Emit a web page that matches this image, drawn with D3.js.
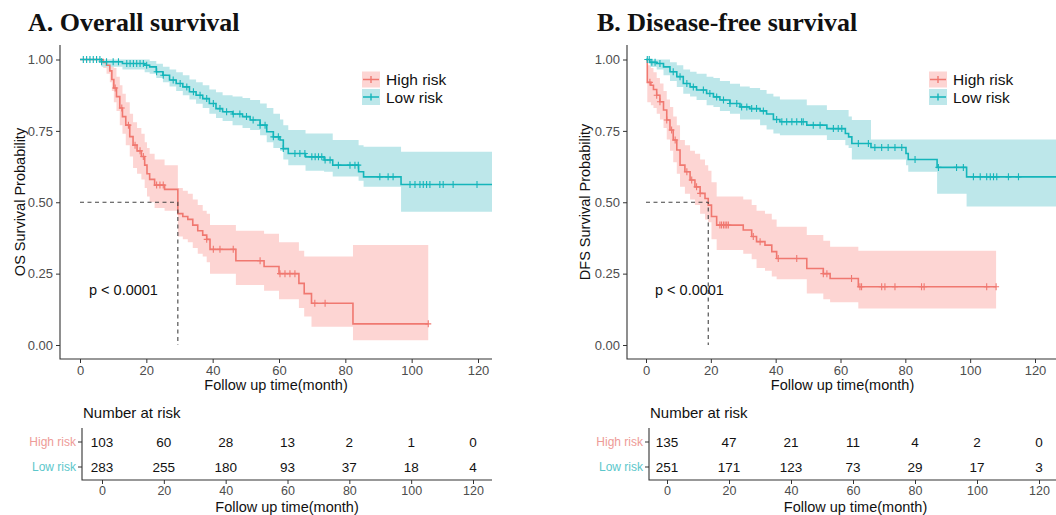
<!DOCTYPE html>
<html><head><meta charset="utf-8">
<script src="https://cdn.jsdelivr.net/npm/d3@7"></script>
<style>
body{margin:0;background:#fff}
svg{display:block}
text{font-family:"Liberation Sans",Arial,sans-serif}
text.ttl{font-family:"Liberation Serif","Times New Roman",serif}
</style>
</head><body>
<svg id="c" width="1056" height="515"></svg>
<script>
// ---------- DATA ----------
const groups = ["High risk", "Low risk"];
const timeTicks = [0, 20, 40, 60, 80, 100, 120];
const yTicks = [0, 0.25, 0.5, 0.75, 1];
const yTickLabels = ["0.00", "0.25", "0.50", "0.75", "1.00"];

// A. Overall survival
const osHighTime  = [0, 7, 8, 9, 9.6, 10.2, 11, 12, 12.8, 13.8, 15, 16, 17.2, 18.5, 19.5, 20.2, 21, 22.5, 25.5, 29.5, 31, 32.5, 34, 35.5, 37, 38.2, 39.2, 47, 55.5, 60, 66, 67.6, 69.8, 82.3];
const osHighSurv  = [1, .99, .98, .96, .93, .90, .87, .83, .80, .77, .73, .70, .68, .66, .63, .60, .58, .56, .545, .46, .45, .44, .42, .40, .385, .37, .335, .295, .275, .25, .216, .18, .146, .074];
const osHighLower = [1, .97, .95, .92, .89, .85, .82, .77, .74, .70, .66, .62, .60, .58, .55, .52, .50, .48, .47, .38, .37, .36, .34, .32, .31, .29, .25, .21, .19, .16, .13, .10, .064, .017];
const osHighUpper = [1, 1, 1, 1, .99, .97, .94, .91, .88, .85, .81, .78, .76, .74, .71, .69, .67, .65, .63, .55, .54, .53, .51, .49, .47, .46, .42, .40, .39, .36, .33, .31, .31, .35];
const osHighEnd = 105;
const osHighCensor = [10.6, 12.6, 14.6, 16.6, 18.1, 19.1, 23.1, 24.1, 25.1, 38.2, 40.2, 42.2, 46.2, 54.3, 60.3, 61.8, 63.3, 64.8, 70.8, 73.9, 105];

const osLowTime  = [0, 6.5, 12.8, 19.5, 21, 23, 25, 27, 29, 31, 33, 35, 37, 39, 41, 43, 46, 49, 51.3, 54.3, 56.3, 58.3, 60.3, 61.3, 62.8, 68, 73.6, 76.2, 84, 85.5, 96.8];
const osLowSurv  = [1, .992, .986, .98, .974, .957, .945, .928, .916, .904, .887, .875, .863, .846, .828, .817, .809, .80, .788, .77, .747, .729, .718, .688, .671, .659, .648, .63, .607, .589, .562];
const osLowLower = [1, .975, .965, .955, .95, .935, .92, .905, .89, .875, .86, .845, .83, .81, .795, .785, .77, .76, .753, .735, .71, .69, .68, .65, .63, .61, .607, .59, .575, .554, .467];
const osLowUpper = [1, 1, 1, 1, .995, .985, .975, .965, .955, .945, .93, .92, .91, .895, .885, .875, .87, .865, .858, .846, .83, .81, .79, .77, .753, .741, .741, .718, .70, .694, .677];
const osLowEnd = 124.3;
const osLowCensor = [1, 2, 3, 4, 5, 6, 6.5, 8, 10, 11.6, 14.1, 15.1, 16.1, 17.1, 18.1, 19.1, 20.1, 23.1, 25.1, 28.1, 30.2, 32.2, 34.2, 36.2, 38.2, 40.2, 42.2, 44.2, 46.2, 48.2, 50.2, 52.2, 54.3, 55.8, 58.3, 59.8, 61.3, 64.8, 66.3, 67.8, 69.9, 70.9, 71.9, 72.9, 73.9, 75.4, 77.9, 81.4, 82.9, 83.9, 90.4, 92.9, 94.4, 99.5, 101, 102.5, 103.5, 104.5, 105.5, 108.5, 109.5, 112.5, 119.7];

const osRiskHigh = [103, 60, 28, 13, 2, 1, 0];
const osRiskLow  = [283, 255, 180, 93, 37, 18, 4];

// B. Disease-free survival
const dfsHighTime  = [0, 0.4, 1.5, 2.3, 3.3, 4.3, 5.4, 6.4, 7.4, 8.4, 9.5, 10.5, 12, 13.6, 15.1, 16.7, 18.2, 19.2, 20.2, 21.8, 30, 32.6, 34.1, 36.7, 38.8, 40.3, 49.6, 54.7, 56.8, 65.5];
const dfsHighSurv  = [1, .92, .91, .895, .875, .852, .823, .788, .753, .718, .683, .63, .607, .578, .554, .531, .513, .49, .45, .42, .403, .38, .362, .35, .327, .303, .268, .25, .233, .204];
const dfsHighLower = [1, .85, .84, .83, .81, .79, .76, .72, .68, .64, .60, .554, .53, .51, .49, .46, .44, .43, .37, .333, .32, .30, .27, .26, .24, .23, .18, .16, .15, .128];
const dfsHighUpper = [1, .98, .97, .955, .935, .916, .89, .86, .834, .80, .77, .718, .70, .68, .67, .65, .63, .61, .57, .52, .51, .49, .47, .46, .44, .414, .385, .365, .344, .33];
const dfsHighEnd = 108;
const dfsHighCensor = [1.2, 3.3, 4.3, 6.4, 7.9, 9.0, 12.6, 14.1, 15.6, 16.7, 22.8, 23.3, 23.9, 24.4, 24.9, 25.4, 33.1, 35.2, 40.8, 46.5, 54.7, 55.8, 63.4, 66, 66.5, 72.7, 73.7, 76.8, 85, 85.8, 105.1, 108];

const dfsLowTime  = [0, 1.2, 3.3, 5.4, 7.4, 9.5, 11.5, 13.6, 15.6, 18.7, 20.8, 22.8, 25.9, 29, 32, 35.2, 37.2, 39.3, 41.3, 49.6, 55.8, 61.5, 62.5, 63.5, 69.4, 80.2, 80.9, 89.8, 98.9];
const dfsLowSurv  = [1, .99, .986, .974, .957, .94, .916, .904, .893, .881, .869, .858, .846, .834, .828, .82, .809, .79, .782, .77, .758, .741, .729, .706, .692, .671, .65, .622, .589];
const dfsLowLower = [1, .974, .965, .945, .925, .904, .88, .87, .858, .84, .834, .82, .81, .79, .79, .77, .755, .741, .735, .735, .718, .70, .69, .65, .65, .63, .607, .53, .485];
const dfsLowUpper = [1, 1, 1, 1, .99, .98, .965, .957, .95, .94, .935, .925, .915, .905, .9, .893, .88, .87, .86, .84, .823, .823, .80, .788, .72, .72, .72, .72, .72];
const dfsLowEnd = 128;
const dfsLowCensor = [0.4, 1, 1.8, 2.8, 4.3, 8.4, 10.5, 12.6, 14.6, 17.7, 19.7, 21.8, 23.9, 25.9, 28, 29.5, 31.1, 32.6, 34.1, 36.2, 40.3, 41.9, 43.4, 45, 46.5, 48, 48.5, 51.6, 53.7, 57.8, 59.3, 60.4, 65.5, 68.6, 70.6, 72.7, 74.7, 76.8, 78.9, 83, 90.2, 95.8, 97.9, 101, 103.1, 105.1, 106.2, 107.2, 108.2, 111.8, 114.9];

const dfsRiskHigh = [135, 47, 21, 11, 4, 2, 0];
const dfsRiskLow  = [251, 171, 123, 73, 29, 17, 3];

// ---------- STYLE ----------
const lineColors = ["#F07870", "#14B5BA"];
const bandColors = ["#FDD5D3", "#BDE7EA"];
const labelColors = ["#EE9B97", "#5CC7CB"];
const axisColor = "#333";
const tickText = "#4D4D4D";

const svg = d3.select("#c");

function panel(cfg) {
  const g = svg.append("g");
  const x = d3.scaleLinear().domain([0, 120]).range([cfg.x0, cfg.x120]);
  const y = d3.scaleLinear().domain([0, 1]).range([345, 59.5]);

  const clipId = "clip" + cfg.id;
  svg.append("clipPath").attr("id", clipId).append("rect")
    .attr("x", cfg.left).attr("y", cfg.top)
    .attr("width", cfg.right - cfg.left).attr("height", cfg.bottom - cfg.top);
  const plot = g.append("g").attr("clip-path", `url(#${clipId})`);

  const seriesPts = cfg.series.map(s => {
    const pts = s.time.map((t, k) => ({t, s: s.surv[k], lo: s.lower[k], hi: s.upper[k]}));
    const last = pts[pts.length - 1];
    pts.push({t: s.end, s: last.s, lo: last.lo, hi: last.hi});
    return pts;
  });

  const area = d3.area().curve(d3.curveStepAfter)
    .x(d => x(d.t)).y0(d => y(d.lo)).y1(d => y(d.hi));
  const line = d3.line().curve(d3.curveStepAfter)
    .x(d => x(d.t)).y(d => y(d.s));

  seriesPts.forEach((pts, i) => {
    plot.append("path").datum(pts).attr("d", area).attr("fill", bandColors[i]);
  });
  seriesPts.forEach((pts, i) => {
    plot.append("path").datum(pts).attr("d", line)
      .attr("fill", "none").attr("stroke", lineColors[i]).attr("stroke-width", 1.6);
    const s = cfg.series[i];
    s.censor.forEach(c => {
      const k = Math.max(0, d3.bisectRight(s.time, c) - 1);
      const sv = s.surv[k];
      plot.append("path")
        .attr("d", `M${x(c)},${y(sv) - 3.5}V${y(sv) + 3.5}M${x(c) - 3},${y(sv)}H${x(c) + 3}`)
        .attr("stroke", lineColors[i]).attr("stroke-width", 1.1).attr("fill", "none");
    });
  });

  // median line (high risk)
  const hs = cfg.series[0];
  const km = hs.surv.findIndex(v => v <= 0.5);
  const tMed = hs.time[km];
  g.append("path")
    .attr("d", `M${x(0)},${y(0.5)}H${x(tMed)}V${y(0)}`)
    .attr("fill", "none").attr("stroke", "#444").attr("stroke-width", 1.1)
    .attr("stroke-dasharray", "4,3.5");

  // axes
  const xa = g.append("g").attr("transform", `translate(0,${cfg.bottom})`)
    .call(d3.axisBottom(x).tickValues(timeTicks).tickSize(4).tickPadding(3));
  xa.select(".domain").remove();
  const ya = g.append("g").attr("transform", `translate(${cfg.left},0)`)
    .call(d3.axisLeft(y).tickValues(yTicks).tickFormat((d, i) => yTickLabels[i]).tickSize(4).tickPadding(3));
  ya.select(".domain").remove();
  [xa, ya].forEach(a => {
    a.selectAll("text").attr("font-size", 13).attr("fill", tickText);
    a.selectAll("line").attr("stroke", axisColor);
  });
  g.append("path").attr("d", `M${cfg.left},${cfg.top}V${cfg.bottom}H${cfg.right}`)
    .attr("fill", "none").attr("stroke", axisColor).attr("stroke-width", 1.1);

  // titles
  g.append("text").attr("class", "ttl").attr("x", cfg.titleX).attr("y", 31).text(cfg.title)
    .attr("font-weight", "bold").attr("font-size", 26).attr("fill", "#111");
  g.append("text").attr("transform", `translate(${cfg.ylabX},${(cfg.top + cfg.bottom) / 2}) rotate(-90)`)
    .attr("text-anchor", "middle").attr("dominant-baseline", "central")
    .attr("font-size", 14.5).attr("fill", "#111").text(cfg.ylab);
  g.append("text").attr("x", (cfg.left + cfg.right) / 2).attr("y", 390)
    .attr("text-anchor", "middle").attr("font-size", 14.5).attr("fill", "#111")
    .text("Follow up time(month)");
  g.append("text").attr("x", cfg.pX).attr("y", 295)
    .attr("font-size", 14.5).attr("fill", "#111").text("p < 0.0001");

  // legend
  groups.forEach((name, i) => {
    const ly = 71.5 + i * 17.5;
    g.append("rect").attr("x", cfg.legendX).attr("y", ly).attr("width", 18).attr("height", 16)
      .attr("fill", bandColors[i]);
    g.append("path").attr("d", `M${cfg.legendX + 1},${ly + 8}H${cfg.legendX + 17}M${cfg.legendX + 9},${ly + 4.5}V${ly + 11.5}`)
      .attr("stroke", lineColors[i]).attr("stroke-width", 1.4).attr("fill", "none");
    g.append("text").attr("x", cfg.legendX + 24).attr("y", ly + 8)
      .attr("dominant-baseline", "central").attr("font-size", 15.5).attr("fill", "#111").text(name);
  });

  // risk table
  const tx = d3.scaleLinear().domain([0, 120]).range([cfg.tx0, cfg.tx120]);
  const rowY = [442, 467];
  g.append("text").attr("x", cfg.tableLeft + 1).attr("y", 418)
    .attr("font-size", 15).attr("fill", "#111").text("Number at risk");
  [cfg.riskHigh, cfg.riskLow].forEach((vals, r) => {
    vals.forEach((v, k) => {
      g.append("text").attr("x", tx(timeTicks[k])).attr("y", rowY[r])
        .attr("text-anchor", "middle").attr("dominant-baseline", "central")
        .attr("font-size", 13.5).attr("fill", "#111").text(v);
    });
    g.append("text").attr("x", cfg.tableLeft - 6).attr("y", rowY[r])
      .attr("text-anchor", "end").attr("dominant-baseline", "central")
      .attr("font-size", 12).attr("fill", labelColors[r]).text(groups[r]);
    g.append("line").attr("x1", cfg.tableLeft - 4).attr("x2", cfg.tableLeft)
      .attr("y1", rowY[r]).attr("y2", rowY[r]).attr("stroke", axisColor);
  });
  const ta = g.append("g").attr("transform", "translate(0,480)")
    .call(d3.axisBottom(tx).tickValues(timeTicks).tickSize(4).tickPadding(2));
  ta.select(".domain").remove();
  ta.selectAll("text").attr("font-size", 12.5).attr("fill", tickText);
  ta.selectAll("line").attr("stroke", axisColor);
  g.append("path").attr("d", `M${cfg.tableLeft},428V480H${cfg.tableRight}`)
    .attr("fill", "none").attr("stroke", axisColor).attr("stroke-width", 1.1);
  g.append("text").attr("x", (cfg.tableLeft + cfg.tableRight) / 2).attr("y", 512)
    .attr("text-anchor", "middle").attr("font-size", 14.5).attr("fill", "#111")
    .text("Follow up time(month)");
}

panel({
  id: "A", left: 60, right: 492, top: 45, bottom: 359, x0: 80, x120: 478,
  title: "A. Overall survival", titleX: 28, ylab: "OS Survival Probability", ylabX: 20,
  pX: 89, legendX: 362, tableLeft: 82, tableRight: 492, tx0: 102, tx120: 473,
  riskHigh: osRiskHigh, riskLow: osRiskLow,
  series: [
    {time: osHighTime, surv: osHighSurv, lower: osHighLower, upper: osHighUpper, end: osHighEnd, censor: osHighCensor},
    {time: osLowTime, surv: osLowSurv, lower: osLowLower, upper: osLowUpper, end: osLowEnd, censor: osLowCensor}
  ]
});
panel({
  id: "B", left: 627, right: 1058, top: 45, bottom: 359, x0: 646, x120: 1035,
  title: "B. Disease-free survival", titleX: 597, ylab: "DFS Survival Probability", ylabX: 585,
  pX: 655, legendX: 929, tableLeft: 649, tableRight: 1062, tx0: 667, tx120: 1039,
  riskHigh: dfsRiskHigh, riskLow: dfsRiskLow,
  series: [
    {time: dfsHighTime, surv: dfsHighSurv, lower: dfsHighLower, upper: dfsHighUpper, end: dfsHighEnd, censor: dfsHighCensor},
    {time: dfsLowTime, surv: dfsLowSurv, lower: dfsLowLower, upper: dfsLowUpper, end: dfsLowEnd, censor: dfsLowCensor}
  ]
});
</script>
</body></html>
